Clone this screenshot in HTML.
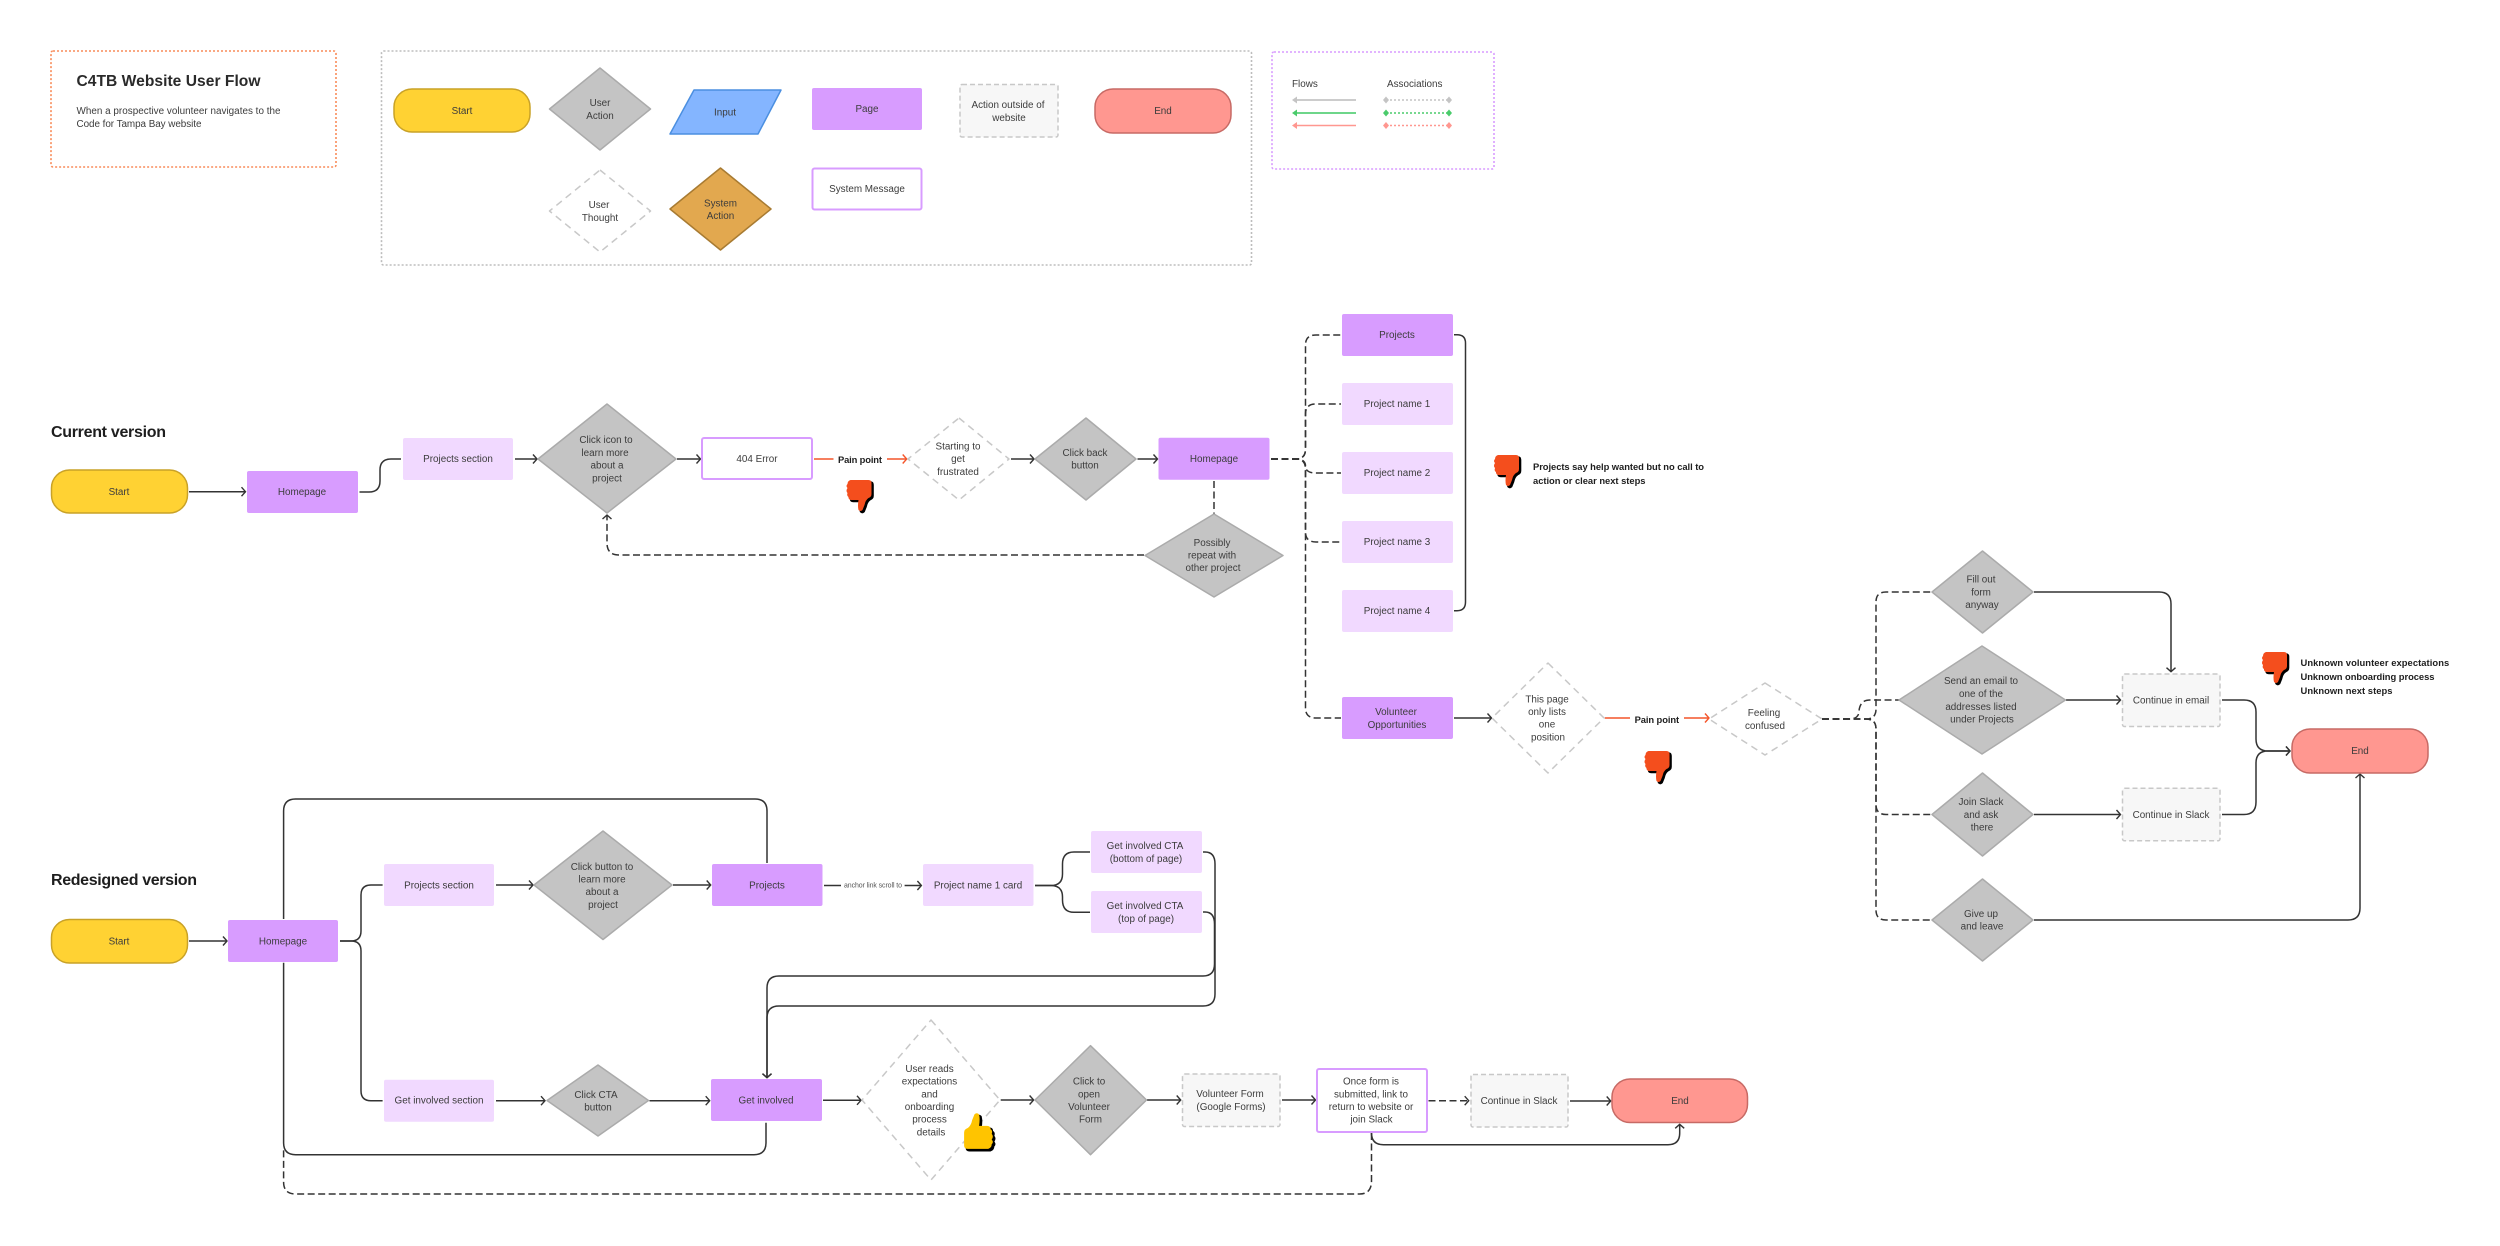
<!DOCTYPE html>
<html lang="en">
<head>
<meta charset="utf-8">
<title>C4TB Website User Flow</title>
<style>
html,body{margin:0;padding:0;background:#fff;width:2500px;height:1246px;overflow:hidden}
svg{display:block}
text{font-family:"Liberation Sans",sans-serif;dominant-baseline:central;transform:translateY(.5px)}
.t{font-size:9.9px;fill:#3c3c3c;text-anchor:middle}
.l{font-size:9.9px;fill:#3c3c3c}
.b{font-size:9.4px;fill:#1e1e1e;font-weight:bold}
.h{font-size:16px;fill:#1e1e1e;font-weight:bold}
.pg{fill:#D89CFF}
.lt{fill:#F1D9FF}
.msg{fill:#fff;stroke:#D89CFF;stroke-width:2}
.out{fill:#F7F7F7;stroke:#C8C8C8;stroke-width:1.5;stroke-dasharray:5 3}
.ua{fill:#C4C4C4;stroke:#ABABAB;stroke-width:1.5;stroke-linejoin:round}
.ut{fill:#fff;stroke:#C8C8C8;stroke-width:1.5;stroke-dasharray:7 5;stroke-linejoin:round}
.st{fill:#FFD233;stroke:#C9A227;stroke-width:1.5}
.en{fill:#FF9790;stroke:#C76A65;stroke-width:1.5}
.c{fill:none;stroke:#333;stroke-width:1.5}
.d{fill:none;stroke:#333;stroke-width:1.5;stroke-dasharray:7 3.5}
.o{fill:none;stroke:#F4552A;stroke-width:1.5}
.a{marker-end:url(#ah)}
.ao{marker-end:url(#aho)}
</style>
</head>
<body>
<svg width="2500" height="1246" viewBox="0 0 2500 1246" xmlns="http://www.w3.org/2000/svg">
<defs>
<marker id="ah" markerUnits="userSpaceOnUse" markerWidth="8" markerHeight="12" refX="5" refY="6" orient="auto"><path d="M1,1.5 L5,6 L1,10.5" fill="none" stroke="#333" stroke-width="1.4"/></marker>
<marker id="aho" markerUnits="userSpaceOnUse" markerWidth="8" markerHeight="12" refX="5" refY="6" orient="auto"><path d="M1,1.5 L5,6 L1,10.5" fill="none" stroke="#F4552A" stroke-width="1.4"/></marker>
<path id="thumb" d="M5,1 H23 Q26,1 26,4 V15 Q26,18 23,19 Q20,21 19,26 L17,31 Q15,33 13,31 Q12,27 13,21 H6 Q3,21 3,18 Q1,17 2,14 Q0,12 2,9 Q0,7 2,5 Q2,2 5,1Z"/>
</defs>

<!-- Title box -->
<rect x="51" y="51" width="285" height="116" rx="2" fill="#fff" stroke="#F98C5A" stroke-width="1.6" stroke-dasharray="2 2"/>
<text x="76.5" y="81" style="font-size:15.6px;font-weight:bold;fill:#2a2a2a" textLength="184">C4TB Website User Flow</text>
<text class="l" x="76.5" y="111" textLength="204">When a prospective volunteer navigates to the</text>
<text class="l" x="76.5" y="124" textLength="125">Code for Tampa Bay website</text>

<!-- Legend box -->
<rect x="381.5" y="51" width="870" height="214" rx="2" fill="#fff" stroke="#BDBDBD" stroke-width="1.6" stroke-dasharray="2 2"/>
<rect class="st" x="394" y="89" width="136" height="43" rx="18"/><text class="t" x="462" y="111">Start</text>
<polygon class="ua" points="600,68 650.5,109 600,150 549.5,109"/><text class="t" x="600" y="103">User</text><text class="t" x="600" y="116">Action</text>
<polygon points="694,90 781,90 758,134 670,134" fill="#84B5FF" stroke="#4B8FE0" stroke-width="1.5" stroke-linejoin="round"/><text class="t" x="725" y="112.5">Input</text>
<rect class="pg" x="812" y="88" width="110" height="42" rx="2"/><text class="t" x="867" y="109">Page</text>
<rect class="out" x="960" y="84.5" width="98" height="52.5" rx="2"/><text class="t" x="1008" y="105">Action outside of</text><text class="t" x="1009" y="118">website</text>
<rect class="en" x="1095" y="89" width="136" height="44" rx="18"/><text class="t" x="1163" y="111">End</text>
<polygon class="ut" points="600,170 650.5,211 600,252 549.5,211"/><text class="t" x="599" y="205">User</text><text class="t" x="600" y="218">Thought</text>
<polygon points="720.5,168 771,209 720.5,250 670,209" fill="#E2A84F" stroke="#A87B32" stroke-width="1.5" stroke-linejoin="round"/><text class="t" x="720.5" y="203.5">System</text><text class="t" x="720.5" y="216">Action</text>
<rect class="msg" x="812.5" y="168.5" width="109" height="41" rx="2"/><text class="t" x="867" y="189">System Message</text>

<!-- Flows legend -->
<rect x="1272" y="52" width="222" height="117" rx="2" fill="#fff" stroke="#D89CFF" stroke-width="1.6" stroke-dasharray="2 2"/>
<text class="l" x="1292" y="84">Flows</text><text class="l" x="1387" y="84">Associations</text>
<path d="M1295,100 H1356" stroke="#C4C4C4" stroke-width="1.8"/><polygon points="1292,100 1297,96.5 1297,103.5" fill="#C4C4C4"/>
<path d="M1295,113 H1356" stroke="#5AD07A" stroke-width="1.8"/><polygon points="1292,113 1297,109.5 1297,116.5" fill="#4ACB6B"/>
<path d="M1295,125.5 H1356" stroke="#FF9790" stroke-width="1.6"/><polygon points="1292,125.5 1297,122 1297,129" fill="#FF9790"/>
<path d="M1386,100 H1449" stroke="#C4C4C4" stroke-width="1.5" stroke-dasharray="2 2"/><polygon points="1383,100 1386,96.5 1389,100 1386,103.5" fill="#C4C4C4"/><polygon points="1446,100 1449,96.5 1452,100 1449,103.5" fill="#C4C4C4"/>
<path d="M1386,113 H1449" stroke="#4ACB6B" stroke-width="1.5" stroke-dasharray="2 2"/><polygon points="1383,113 1386,109.5 1389,113 1386,116.5" fill="#4ACB6B"/><polygon points="1446,113 1449,109.5 1452,113 1449,116.5" fill="#4ACB6B"/>
<path d="M1386,125.5 H1449" stroke="#FF9790" stroke-width="1.5" stroke-dasharray="2 2"/><polygon points="1383,125.5 1386,122 1389,125.5 1386,129" fill="#FF9790"/><polygon points="1446,125.5 1449,122 1452,125.5 1449,129" fill="#FF9790"/>

<!-- Current version connectors -->
<path class="c a" d="M189,491.7 H245.5"/>
<path class="c" d="M359.5,492 H369 Q380,492 380,481 V470 Q380,459 391,459 H401"/>
<path class="c a" d="M515,459 H537"/>
<path class="c a" d="M677,459 H700.5"/>
<path class="o" d="M814,459 H833.5"/>
<path class="o ao" d="M887,459 H906.7"/>
<path class="c a" d="M1011,459 H1034"/>
<path class="c a" d="M1137.5,459 H1157.5"/>
<path class="d" d="M1271,459 H1296 Q1305.5,459 1305.5,449 V345 Q1305.5,335 1316,335 H1341"/>
<path class="d" d="M1271,459 H1296 Q1305.5,459 1305.5,449 V414 Q1305.5,404 1316,404 H1341"/>
<path class="d" d="M1271,459 H1296 Q1305.5,459 1305.5,466 Q1305.5,473 1316,473 H1341"/>
<path class="d" d="M1271,459 H1296 Q1305.5,459 1305.5,469 V532 Q1305.5,542 1316,542 H1341"/>
<path class="d" d="M1271,459 H1296 Q1305.5,459 1305.5,469 V708 Q1305.5,718 1316,718 H1341"/>
<path class="d" d="M1214,481 V514"/>
<path class="d a" d="M1144,555 H619 Q607,555 607,543 V515"/>
<path class="c" d="M1454,334.7 H1457 Q1465.5,334.7 1465.5,343 V602 Q1465.5,610.7 1457,610.7 H1454"/>
<path class="c a" d="M1454,718 H1491.5"/>
<path class="o" d="M1604.8,718 H1630"/>
<path class="o ao" d="M1684,718 H1709"/>
<path class="d" d="M1822,719 H1866 Q1876,719 1876,709 V602 Q1876,592 1886,592 H1932"/>
<path class="d" d="M1822,719 H1849 Q1859,719 1859,711 Q1860,700 1870,700 H1899"/>
<path class="d" d="M1822,719 H1866 Q1876,719 1876,729 V804.5 Q1876,814.5 1886,814.5 H1932"/>
<path class="d" d="M1822,719 H1866 Q1876,719 1876,729 V910 Q1876,920 1886,920 H1932"/>
<path class="c a" d="M2034,592 H2159 Q2171,592 2171,604 V671.7"/>
<path class="c a" d="M2066,700 H2120.5"/>
<path class="c a" d="M2034,814.5 H2120.5"/>
<path class="c a" d="M2222,700 H2244 Q2256,700 2256,712 V739 Q2256,751 2268,751 H2290"/>
<path class="c a" d="M2222,814.5 H2244 Q2256,814.5 2256,802 V763 Q2256,751 2268,751 H2290"/>
<path class="c a" d="M2034,920 H2348 Q2360,920 2360,908 V774"/>

<!-- Redesign connectors -->
<path class="c a" d="M189,941 H227"/>
<path class="c" d="M340,941 H351 Q361,941 361,931 V895 Q361,885 371,885 H382.6"/>
<path class="c" d="M340,941 H351 Q361,941 361,951 V1090.7 Q361,1100.7 371,1100.7 H382.6"/>
<path class="c a" d="M496,885 H533"/>
<path class="c a" d="M673,885 H710.7"/>
<path class="c a" d="M496,1100.7 H545"/>
<path class="c a" d="M649.5,1100.7 H709.7"/>
<path class="c" d="M283.6,919 V811 Q283.6,799 295.6,799 H755 Q767,799 767,811 V863"/>
<path class="c" d="M283.6,962.7 V1142.7 Q283.6,1154.7 295.6,1154.7 H754 Q766,1154.7 766,1142.7 V1122.7"/>
<path class="d" d="M1371.5,1133 V1181 Q1371.5,1194 1359.5,1194 H295.6 Q283.6,1194 283.6,1182 V1150"/>
<path class="c" d="M824,885.5 H841"/>
<path class="c a" d="M904.6,885.5 H921.4"/>
<path class="c" d="M1035,885.5 H1051 Q1062.5,885.5 1062.5,874 V864 Q1062.5,852 1074,852 H1090"/>
<path class="c" d="M1035,885.5 H1051 Q1062.5,885.5 1062.5,897 V900 Q1062.5,912.3 1074,912.3 H1090"/>
<path class="c a" d="M1203,852 H1205 Q1215,852 1215,864 V994 Q1215,1006 1203,1006 H779 Q767,1006 767,1018 V1077.7"/>
<path class="c a" d="M1203,912 H1205 Q1214.5,912 1214.5,924 V964 Q1214.5,976 1203,976 H779 Q767,976 767,988 V1077.7"/>
<path class="c a" d="M823,1100.3 H861"/>
<path class="c a" d="M1000.7,1100 H1033.6"/>
<path class="c a" d="M1147,1100 H1180.7"/>
<path class="c a" d="M1282,1100 H1315.5"/>
<path class="d a" d="M1428.5,1100.7 H1468.7"/>
<path class="c a" d="M1570,1101 H1610.7"/>
<path class="c a" d="M1371.5,1133 Q1371.5,1144.7 1383.5,1144.7 H1668 Q1679.7,1144.7 1679.7,1133 V1124.3"/>

<!-- Current version nodes -->
<text class="h" x="51" y="432" textLength="115">Current version</text>
<rect class="st" x="51.5" y="470" width="136" height="43" rx="18"/><text class="t" x="119" y="492">Start</text>
<rect class="pg" x="247" y="471" width="111" height="42" rx="2"/><text class="t" x="302" y="492">Homepage</text>
<rect class="lt" x="403" y="438" width="110" height="42" rx="2"/><text class="t" x="458" y="459">Projects section</text>
<polygon class="ua" points="607,404 676,459 607,513 538,459"/>
<text class="t" x="606" y="440">Click icon to</text><text class="t" x="605" y="453">learn more</text><text class="t" x="607" y="465.7">about a</text><text class="t" x="607" y="478.5">project</text>
<rect class="msg" x="702" y="438" width="110" height="41" rx="2"/><text class="t" x="757" y="459">404 Error</text>
<text class="b" x="838" y="459" textLength="44">Pain point</text>
<polygon class="ut" points="959,418 1009,459 959,500 908,459"/>
<text class="t" x="958" y="446.5">Starting to</text><text class="t" x="958" y="459">get</text><text class="t" x="958" y="472">frustrated</text>
<polygon class="ua" points="1086,418 1136,459 1086,500 1035,459"/>
<text class="t" x="1085" y="453">Click back</text><text class="t" x="1085" y="465.7">button</text>
<rect class="pg" x="1158.5" y="437.7" width="111" height="42" rx="2"/><text class="t" x="1214" y="459">Homepage</text>
<polygon class="ua" points="1214,514 1283,555.5 1214,597 1145,555.5"/>
<text class="t" x="1212" y="543">Possibly</text><text class="t" x="1212" y="555.7">repeat with</text><text class="t" x="1213" y="568">other project</text>
<rect class="pg" x="1342" y="314" width="111" height="42" rx="2"/><text class="t" x="1397" y="335">Projects</text>
<rect class="lt" x="1342" y="383" width="111" height="42" rx="2"/><text class="t" x="1397" y="404">Project name 1</text>
<rect class="lt" x="1342" y="452" width="111" height="42" rx="2"/><text class="t" x="1397" y="473">Project name 2</text>
<rect class="lt" x="1342" y="521" width="111" height="42" rx="2"/><text class="t" x="1397" y="542">Project name 3</text>
<rect class="lt" x="1342" y="590" width="111" height="42" rx="2"/><text class="t" x="1397" y="611">Project name 4</text>
<rect class="pg" x="1342" y="697" width="111" height="42" rx="2"/><text class="t" x="1396" y="712">Volunteer</text><text class="t" x="1397" y="725">Opportunities</text>
<text class="b" x="1533" y="466" textLength="171">Projects say help wanted but no call to</text>
<text class="b" x="1533" y="480" textLength="112.5">action or clear next steps</text>
<polygon class="ut" points="1548,663 1604,718 1548,773 1492,718"/>
<text class="t" x="1547" y="699.5">This page</text><text class="t" x="1547" y="712">only lists</text><text class="t" x="1547" y="724.7">one</text><text class="t" x="1548" y="737.5">position</text>
<text class="b" x="1634.6" y="719" textLength="44.5">Pain point</text>
<polygon class="ut" points="1765,683 1822,719 1765,755 1709,719"/>
<text class="t" x="1764" y="713">Feeling</text><text class="t" x="1765" y="726">confused</text>
<polygon class="ua" points="1982.5,551 2033,592 1982.5,633 1932,592"/>
<text class="t" x="1981" y="579.7">Fill out</text><text class="t" x="1981" y="592.3">form</text><text class="t" x="1982" y="605">anyway</text>
<polygon class="ua" points="1982,646 2065.5,700 1982,754 1899,700"/>
<text class="t" x="1981" y="681">Send an email to</text><text class="t" x="1981" y="694">one of the</text><text class="t" x="1981" y="707">addresses listed</text><text class="t" x="1982" y="719.7">under Projects</text>
<polygon class="ua" points="1982.5,773 2033,814.5 1982.5,856 1932,814.5"/>
<text class="t" x="1981" y="802">Join Slack</text><text class="t" x="1981" y="815">and ask</text><text class="t" x="1982" y="827.7">there</text>
<polygon class="ua" points="1982.5,879 2033,920 1982.5,961 1932,920"/>
<text class="t" x="1981" y="914">Give up</text><text class="t" x="1982" y="926.7">and leave</text>
<rect class="out" x="2122.5" y="674" width="97.5" height="52.5" rx="2"/><text class="t" x="2171" y="700.5">Continue in email</text>
<rect class="out" x="2122.5" y="788.3" width="97.5" height="52.5" rx="2"/><text class="t" x="2171" y="815">Continue in Slack</text>
<rect class="en" x="2292" y="729" width="136" height="44" rx="18"/><text class="t" x="2360" y="751">End</text>
<text class="b" x="2300.5" y="662" textLength="148.7">Unknown volunteer expectations</text>
<text class="b" x="2300.5" y="676" textLength="134">Unknown onboarding process</text>
<text class="b" x="2300.5" y="690" textLength="92">Unknown next steps</text>

<!-- Redesigned nodes -->
<text class="h" x="51" y="880" textLength="146">Redesigned version</text>
<rect class="st" x="51.5" y="919.5" width="136" height="43.5" rx="18"/><text class="t" x="119" y="941.5">Start</text>
<rect class="pg" x="228" y="920" width="110" height="42" rx="2"/><text class="t" x="283" y="941.5">Homepage</text>
<rect class="lt" x="384" y="864" width="110" height="42" rx="2"/><text class="t" x="439" y="885.5">Projects section</text>
<polygon class="ua" points="603,831 672,885 603,939.5 534,885"/>
<text class="t" x="602" y="867">Click button to</text><text class="t" x="602" y="879.5">learn more</text><text class="t" x="602" y="892">about a</text><text class="t" x="603" y="905">project</text>
<rect class="pg" x="712" y="864" width="110.5" height="42" rx="2"/><text class="t" x="767" y="885.5">Projects</text>
<text x="873" y="885.5" style="font-size:7px;fill:#555;text-anchor:middle" textLength="58">anchor link scroll to</text>
<rect class="lt" x="923" y="864" width="110.5" height="42" rx="2"/><text class="t" x="978" y="885.5">Project name 1 card</text>
<rect class="lt" x="1091" y="831" width="111" height="42" rx="2"/><text class="t" x="1145" y="846">Get involved CTA</text><text class="t" x="1146" y="859">(bottom of page)</text>
<rect class="lt" x="1091" y="891" width="111" height="42" rx="2"/><text class="t" x="1145" y="906">Get involved CTA</text><text class="t" x="1146" y="919">(top of page)</text>
<rect class="lt" x="384" y="1079.7" width="110" height="42" rx="2"/><text class="t" x="439" y="1100.7">Get involved section</text>
<polygon class="ua" points="598,1065 648.5,1100.5 598,1136 547,1100.5"/>
<text class="t" x="596" y="1095">Click CTA</text><text class="t" x="598" y="1107.5">button</text>
<rect class="pg" x="711" y="1079" width="111" height="42" rx="2"/><text class="t" x="766" y="1100.5">Get involved</text>
<polygon class="ut" points="931,1020 1000,1100 931,1180 862,1100"/>
<text class="t" x="929.5" y="1069">User reads</text><text class="t" x="929.5" y="1081.7">expectations</text><text class="t" x="929.5" y="1094.3">and</text><text class="t" x="929.5" y="1107">onboarding</text><text class="t" x="929.5" y="1119.7">process</text><text class="t" x="931" y="1132.3">details</text>
<polygon class="ua" points="1090.5,1045.7 1146.5,1100 1090.5,1154.7 1035,1100"/>
<text class="t" x="1089" y="1081.7">Click to</text><text class="t" x="1089" y="1094.3">open</text><text class="t" x="1089" y="1107">Volunteer</text><text class="t" x="1090.5" y="1119.7">Form</text>
<rect class="out" x="1182.5" y="1074" width="97.5" height="52.5" rx="2"/><text class="t" x="1230" y="1094">Volunteer Form</text><text class="t" x="1231" y="1107">(Google Forms)</text>
<rect class="msg" x="1317" y="1069" width="110" height="63" rx="2"/>
<text class="t" x="1371" y="1081.7">Once form is</text><text class="t" x="1371" y="1094.3">submitted, link to</text><text class="t" x="1371" y="1107">return to website or</text><text class="t" x="1371.5" y="1119.7">join Slack</text>
<rect class="out" x="1471" y="1074.5" width="97" height="52.5" rx="2"/><text class="t" x="1519" y="1101">Continue in Slack</text>
<rect class="en" x="1612" y="1079" width="135.5" height="43.5" rx="18"/><text class="t" x="1680" y="1101">End</text>

<!-- Thumbs -->
<g transform="translate(845.5,479)"><use href="#thumb" x="1.8" y="1.8" fill="#000" stroke="#000" stroke-width="1"/><use href="#thumb" fill="#F44E1D"/></g>
<g transform="translate(1493,454)"><use href="#thumb" x="1.8" y="1.8" fill="#000" stroke="#000" stroke-width="1"/><use href="#thumb" fill="#F44E1D"/></g>
<g transform="translate(1643.5,750)"><use href="#thumb" x="1.8" y="1.8" fill="#000" stroke="#000" stroke-width="1"/><use href="#thumb" fill="#F44E1D"/></g>
<g transform="translate(2261,651)"><use href="#thumb" x="1.8" y="1.8" fill="#000" stroke="#000" stroke-width="1"/><use href="#thumb" fill="#F44E1D"/></g>
<g transform="translate(994,1150) rotate(180) scale(1.15)"><use href="#thumb" x="-1.8" y="-1.8" fill="#000" stroke="#000" stroke-width="1"/><use href="#thumb" fill="#FFC400"/></g>
</svg>
</body>
</html>
